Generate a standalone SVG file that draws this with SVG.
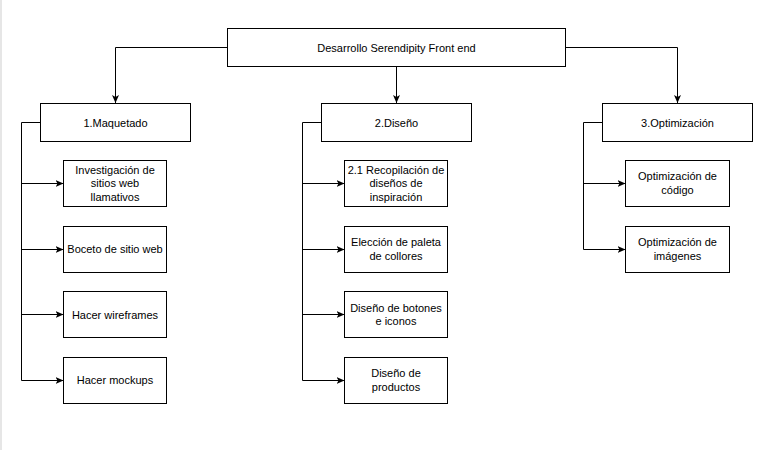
<svg xmlns="http://www.w3.org/2000/svg" width="765" height="450" viewBox="0 0 765 450">
  <style>
    .box { fill: #ffffff; stroke: #000000; stroke-width: 1; }
    .lbl { font-family: "Liberation Sans", Arial, sans-serif; font-size: 11px; fill: #000000; text-anchor: middle; }
    .edge { fill: none; stroke: #000000; stroke-width: 1; }
  </style>
  <defs>
    <marker id="arrow" markerUnits="userSpaceOnUse" markerWidth="8" markerHeight="8" refX="8" refY="4" orient="auto">
      <path d="M0,0.5 L8,4 L0,7.5 L2,4 Z" fill="#000000"/>
    </marker>
  </defs>
  <rect x="0" y="0" width="765" height="450" fill="#ffffff"/>
  <rect x="0" y="0" width="2" height="450" fill="#e6e6e6"/>

  <g id="connectors">
    <path class="edge" d="M227.5,47.5 H115.5 V103" marker-end="url(#arrow)"/>
    <path class="edge" d="M396.5,66.5 V103" marker-end="url(#arrow)"/>
    <path class="edge" d="M565.5,47.5 H677.5 V103" marker-end="url(#arrow)"/>

    <path class="edge" d="M40.5,122.5 H21.5 V380.5 H63.5" marker-end="url(#arrow)"/>
    <path class="edge" d="M21.5,183.5 H63.5" marker-end="url(#arrow)"/>
    <path class="edge" d="M21.5,249.5 H63.5" marker-end="url(#arrow)"/>
    <path class="edge" d="M21.5,314.5 H63.5" marker-end="url(#arrow)"/>

    <path class="edge" d="M321.5,122.5 H302.5 V380.5 H344.5" marker-end="url(#arrow)"/>
    <path class="edge" d="M302.5,183.5 H344.5" marker-end="url(#arrow)"/>
    <path class="edge" d="M302.5,249.5 H344.5" marker-end="url(#arrow)"/>
    <path class="edge" d="M302.5,314.5 H344.5" marker-end="url(#arrow)"/>

    <path class="edge" d="M602.5,122.5 H583.5 V249.5 H625.5" marker-end="url(#arrow)"/>
    <path class="edge" d="M583.5,183.5 H625.5" marker-end="url(#arrow)"/>
  </g>

  <g id="root">
    <rect class="box" x="227.5" y="28.5" width="338" height="38"/>
    <text class="lbl" x="396.5" y="51.5">Desarrollo Serendipity Front end</text>
  </g>

  <g id="maquetado">
    <rect class="box" x="40.5" y="103.5" width="150" height="38"/>
    <text class="lbl" x="115.5" y="126.5">1.Maquetado</text>
  </g>
  <g id="diseno">
    <rect class="box" x="321.5" y="103.5" width="150" height="38"/>
    <text class="lbl" x="396.5" y="126.5">2.Diseño</text>
  </g>
  <g id="optimizacion">
    <rect class="box" x="602.5" y="103.5" width="150" height="38"/>
    <text class="lbl" x="677.5" y="126.5">3.Optimización</text>
  </g>

  <g id="investigacion">
    <rect class="box" x="63.5" y="160.5" width="103" height="46"/>
    <text class="lbl" x="115" y="173.5">Investigación de</text>
    <text class="lbl" x="115" y="187">sitios web</text>
    <text class="lbl" x="115" y="200.5">llamativos</text>
  </g>
  <g id="boceto">
    <rect class="box" x="63.5" y="226.5" width="103" height="46"/>
    <text class="lbl" x="115" y="253">Boceto de sitio web</text>
  </g>
  <g id="wireframes">
    <rect class="box" x="63.5" y="291.5" width="103" height="46"/>
    <text class="lbl" x="115" y="318.5">Hacer wireframes</text>
  </g>
  <g id="mockups">
    <rect class="box" x="63.5" y="357.5" width="103" height="46"/>
    <text class="lbl" x="115" y="384">Hacer mockups</text>
  </g>

  <g id="recopilacion">
    <rect class="box" x="344.5" y="160.5" width="103" height="46"/>
    <text class="lbl" x="396" y="173.5">2.1 Recopilación de</text>
    <text class="lbl" x="396" y="187">diseños de</text>
    <text class="lbl" x="396" y="200.5">inspiración</text>
  </g>
  <g id="paleta">
    <rect class="box" x="344.5" y="226.5" width="103" height="46"/>
    <text class="lbl" x="396" y="246">Elección de paleta</text>
    <text class="lbl" x="396" y="259.5">de collores</text>
  </g>
  <g id="botones">
    <rect class="box" x="344.5" y="291.5" width="103" height="46"/>
    <text class="lbl" x="396" y="311.5">Diseño de botones</text>
    <text class="lbl" x="396" y="325">e iconos</text>
  </g>
  <g id="productos">
    <rect class="box" x="344.5" y="357.5" width="103" height="46"/>
    <text class="lbl" x="396" y="377">Diseño de</text>
    <text class="lbl" x="396" y="390.5">productos</text>
  </g>

  <g id="opt-codigo">
    <rect class="box" x="625.5" y="160.5" width="104" height="46"/>
    <text class="lbl" x="677.5" y="180">Optimización de</text>
    <text class="lbl" x="677.5" y="193.5">código</text>
  </g>
  <g id="opt-imagenes">
    <rect class="box" x="625.5" y="226.5" width="104" height="46"/>
    <text class="lbl" x="677.5" y="246">Optimización de</text>
    <text class="lbl" x="677.5" y="259.5">imágenes</text>
  </g>
</svg>
